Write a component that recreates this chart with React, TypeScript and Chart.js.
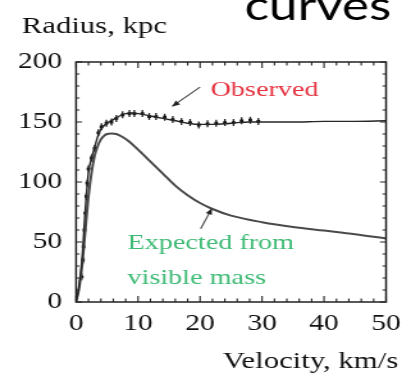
import React, { useEffect, useRef } from 'react';
import { Chart, registerables } from 'chart.js';

Chart.register(...registerables);

// ---- data ----
const observedCurveV = [0, 0.5, 1, 1.5, 2, 2.5, 3, 3.5, 4, 5, 6, 7, 8, 9, 10, 12, 14, 16, 18, 20, 22, 24, 26, 28, 30, 35, 40, 45, 50];
const observedCurveR = [0, 14, 38, 78, 108, 120, 129, 138, 144, 149, 152, 155, 157, 157.5, 157, 155, 153, 151, 149, 148, 148, 148.5, 149.5, 150, 150, 150, 150.5, 150.5, 151];

const expectedCurveV = [0, 0.5, 1, 1.5, 2, 2.5, 3, 3.5, 4, 4.5, 5, 5.7, 6.5, 7.5, 8.5, 10, 12, 14, 16, 18, 20, 22, 25, 30, 35, 40, 45, 50];
const expectedCurveR = [0, 12, 32, 60, 88, 108, 122, 130, 135.5, 138.5, 140, 140.5, 140, 137.5, 134, 127, 117, 107, 97, 89, 82.5, 77.5, 72, 66.5, 62.5, 59.5, 56.5, 53];

const observedPointV = [0.9, 1.1, 1.2, 1.35, 1.5, 1.65, 1.8, 2.0, 2.5, 3.0, 3.6, 4.1, 4.9, 5.7, 6.5, 7.5, 8.6, 9.4, 10.7, 11.8, 12.9, 14.3, 15.6, 17.0, 18.4, 19.8, 21.2, 22.6, 24.0, 25.4, 26.7, 28.1, 29.4];
const observedPointR = [21, 35, 46, 60, 74, 88, 99, 111, 120, 128, 141, 146, 149, 150, 153, 156, 157, 157, 157, 154.5, 154.5, 154, 152, 150.5, 149.5, 147.5, 148.5, 149, 149.5, 149.5, 151, 151.5, 150.5];

const xMin = 0, xMax = 50, xMajorStep = 10, xMinorStep = 2;
const yMin = 0, yMax = 200, yMajorStep = 50, yMinorStep = 10;

const yTitle = 'Radius, kpc';
const xTitle = 'Velocity, km/s';
const slideTitle = 'curves';
const observedLabel = 'Observed';
const expectedLabel = ['Expected from', 'visible mass'];

// annotation anchors in data units [velocity, radius]
const observedArrowTip = [15.5, 163];
const observedArrowTail = [20, 179];
const observedTextAt = [21.7, 171.5];
const expectedArrowTip = [21.9, 78];
const expectedArrowTail = [20.1, 61];
const expectedTextAt = [8.3, 44.2];
const expectedTextLine2 = [8.3, 15];

// ---- layout ----
const OUT_W = 411;
const OUT_H = 385;
const SX = 1.28; // horizontal stretch of the source picture
const IN_W = Math.round(OUT_W / SX);
const SERIF = "'Liberation Serif', 'Times New Roman', serif";

const pts = (vs: number[], rs: number[]) => vs.map((v, i) => ({ x: v, y: rs[i] }));

function arrow(ctx: CanvasRenderingContext2D, x1: number, y1: number, x2: number, y2: number) {
  ctx.beginPath();
  ctx.moveTo(x1, y1);
  ctx.lineTo(x2, y2);
  ctx.stroke();
  const ang = Math.atan2(y2 - y1, x2 - x1);
  const L = 6;
  const W = 2.6;
  ctx.beginPath();
  ctx.moveTo(x2, y2);
  ctx.lineTo(x2 - L * Math.cos(ang) + W * Math.sin(ang), y2 - L * Math.sin(ang) - W * Math.cos(ang));
  ctx.lineTo(x2 - L * Math.cos(ang) - W * Math.sin(ang), y2 - L * Math.sin(ang) + W * Math.cos(ang));
  ctx.closePath();
  ctx.fill();
}

const framePlugin = {
  id: 'frameTicks',
  afterDatasetsDraw(chart: any) {
    const { ctx, chartArea: a, scales } = chart;
    const x = scales.x, y = scales.y;
    ctx.save();
    ctx.strokeStyle = '#222';
    ctx.lineWidth = 1.5;
    ctx.strokeRect(a.left, a.top, a.right - a.left, a.bottom - a.top);
    ctx.lineWidth = 1.1;
    ctx.beginPath();
    for (let v = xMin; v <= xMax + 1e-9; v += xMinorStep) {
      const px = x.getPixelForValue(v);
      const len = Math.abs(v % xMajorStep) < 1e-9 ? 6 : 3.5;
      ctx.moveTo(px, a.bottom); ctx.lineTo(px, a.bottom - len);
      ctx.moveTo(px, a.top); ctx.lineTo(px, a.top + len);
    }
    for (let r = yMin; r <= yMax + 1e-9; r += yMinorStep) {
      const py = y.getPixelForValue(r);
      const len = (Math.abs(r % yMajorStep) < 1e-9 ? 6 : 3.5) / SX;
      ctx.moveTo(a.left, py); ctx.lineTo(a.left + len, py);
      ctx.moveTo(a.right, py); ctx.lineTo(a.right - len, py);
    }
    ctx.stroke();
    ctx.restore();
  },
  afterDraw(chart: any) {
    const { ctx, scales } = chart;
    const x = scales.x, y = scales.y;
    const P = (d: number[]) => [x.getPixelForValue(d[0]), y.getPixelForValue(d[1])];
    ctx.save();
    // slide title fragment
    ctx.fillStyle = '#000';
    ctx.font = `40px Lato, 'Open Sans', sans-serif`;
    ctx.textAlign = 'left';
    ctx.textBaseline = 'alphabetic';
    ctx.fillText(slideTitle, 191, 20);
    // axis titles
    ctx.fillStyle = '#111';
    ctx.font = `24px ${SERIF}`;
    ctx.fillText(yTitle, 17, 33);
    ctx.textAlign = 'right';
    ctx.fillText(xTitle, 311, 368);
    // annotations
    ctx.textAlign = 'left';
    ctx.font = `22px ${SERIF}`;
    ctx.fillStyle = '#e5323e';
    const ot = P(observedTextAt);
    ctx.fillText(observedLabel, ot[0], ot[1]);
    ctx.fillStyle = '#3dba74';
    const e1 = P(expectedTextAt);
    const e2 = P(expectedTextLine2);
    ctx.fillText(expectedLabel[0], e1[0], e1[1]);
    ctx.fillText(expectedLabel[1], e2[0], e2[1]);
    ctx.strokeStyle = '#444';
    ctx.fillStyle = '#222';
    ctx.lineWidth = 1.1;
    const oa = P(observedArrowTail), ob = P(observedArrowTip);
    arrow(ctx, oa[0], oa[1], ob[0], ob[1]);
    const ea = P(expectedArrowTail), eb = P(expectedArrowTip);
    arrow(ctx, ea[0], ea[1], eb[0], eb[1]);
    ctx.restore();
  },
};

export default function App() {
  const ref = useRef<HTMLCanvasElement | null>(null);
  useEffect(() => {
    if (!ref.current) return;
    const tickFont = { family: SERIF, size: 23 };
    const chart = new Chart(ref.current, {
      type: 'line',
      data: {
        datasets: [
          {
            label: 'Observed',
            data: pts(observedCurveV, observedCurveR),
            borderColor: '#262626',
            borderWidth: 1.4,
            pointRadius: 0,
            cubicInterpolationMode: 'monotone',
            fill: false,
          },
          {
            label: 'Expected',
            data: pts(expectedCurveV, expectedCurveR),
            borderColor: '#4a4a4a',
            borderWidth: 2,
            pointRadius: 0,
            cubicInterpolationMode: 'monotone',
            fill: false,
          },
          {
            type: 'scatter',
            label: 'Data',
            data: pts(observedPointV, observedPointR),
            showLine: false,
            pointStyle: 'rect',
            pointRadius: 2,
            backgroundColor: '#111',
            borderColor: '#111',
            borderWidth: 0,
          },
          {
            type: 'scatter',
            label: 'Error',
            data: pts(observedPointV, observedPointR),
            showLine: false,
            pointStyle: 'line',
            rotation: 90,
            pointRadius: 3.5,
            borderColor: '#222',
            borderWidth: 1.3,
          },
        ],
      } as any,
      options: {
        responsive: false,
        devicePixelRatio: 1,
        animation: false,
        events: [],
        layout: { padding: { top: 62, right: IN_W - 304, bottom: 0, left: 0 } },
        plugins: { legend: { display: false }, tooltip: { enabled: false }, title: { display: false } },
        scales: {
          x: {
            type: 'linear',
            min: xMin,
            max: xMax,
            grid: { display: false, drawTicks: false },
            border: { display: false },
            ticks: { stepSize: xMajorStep, font: tickFont, color: '#111', padding: 8, maxRotation: 0 },
            afterFit: (s: any) => { s.height = OUT_H - 302; },
          },
          y: {
            type: 'linear',
            min: yMin,
            max: yMax,
            grid: { display: false, drawTicks: false },
            border: { display: false },
            ticks: { stepSize: yMajorStep, font: tickFont, color: '#111', padding: 11 },
            afterFit: (s: any) => { s.width = 59.4; },
          },
        },
      } as any,
      plugins: [framePlugin],
    });
    return () => chart.destroy();
  }, []);
  return (
    <div style={{ position: 'absolute', left: 0, top: 0, width: OUT_W, height: OUT_H, background: '#fff' }}>
      <canvas ref={ref} width={IN_W} height={OUT_H} style={{ width: `${OUT_W}px`, height: `${OUT_H}px`, display: 'block' }} />
    </div>
  );
}
